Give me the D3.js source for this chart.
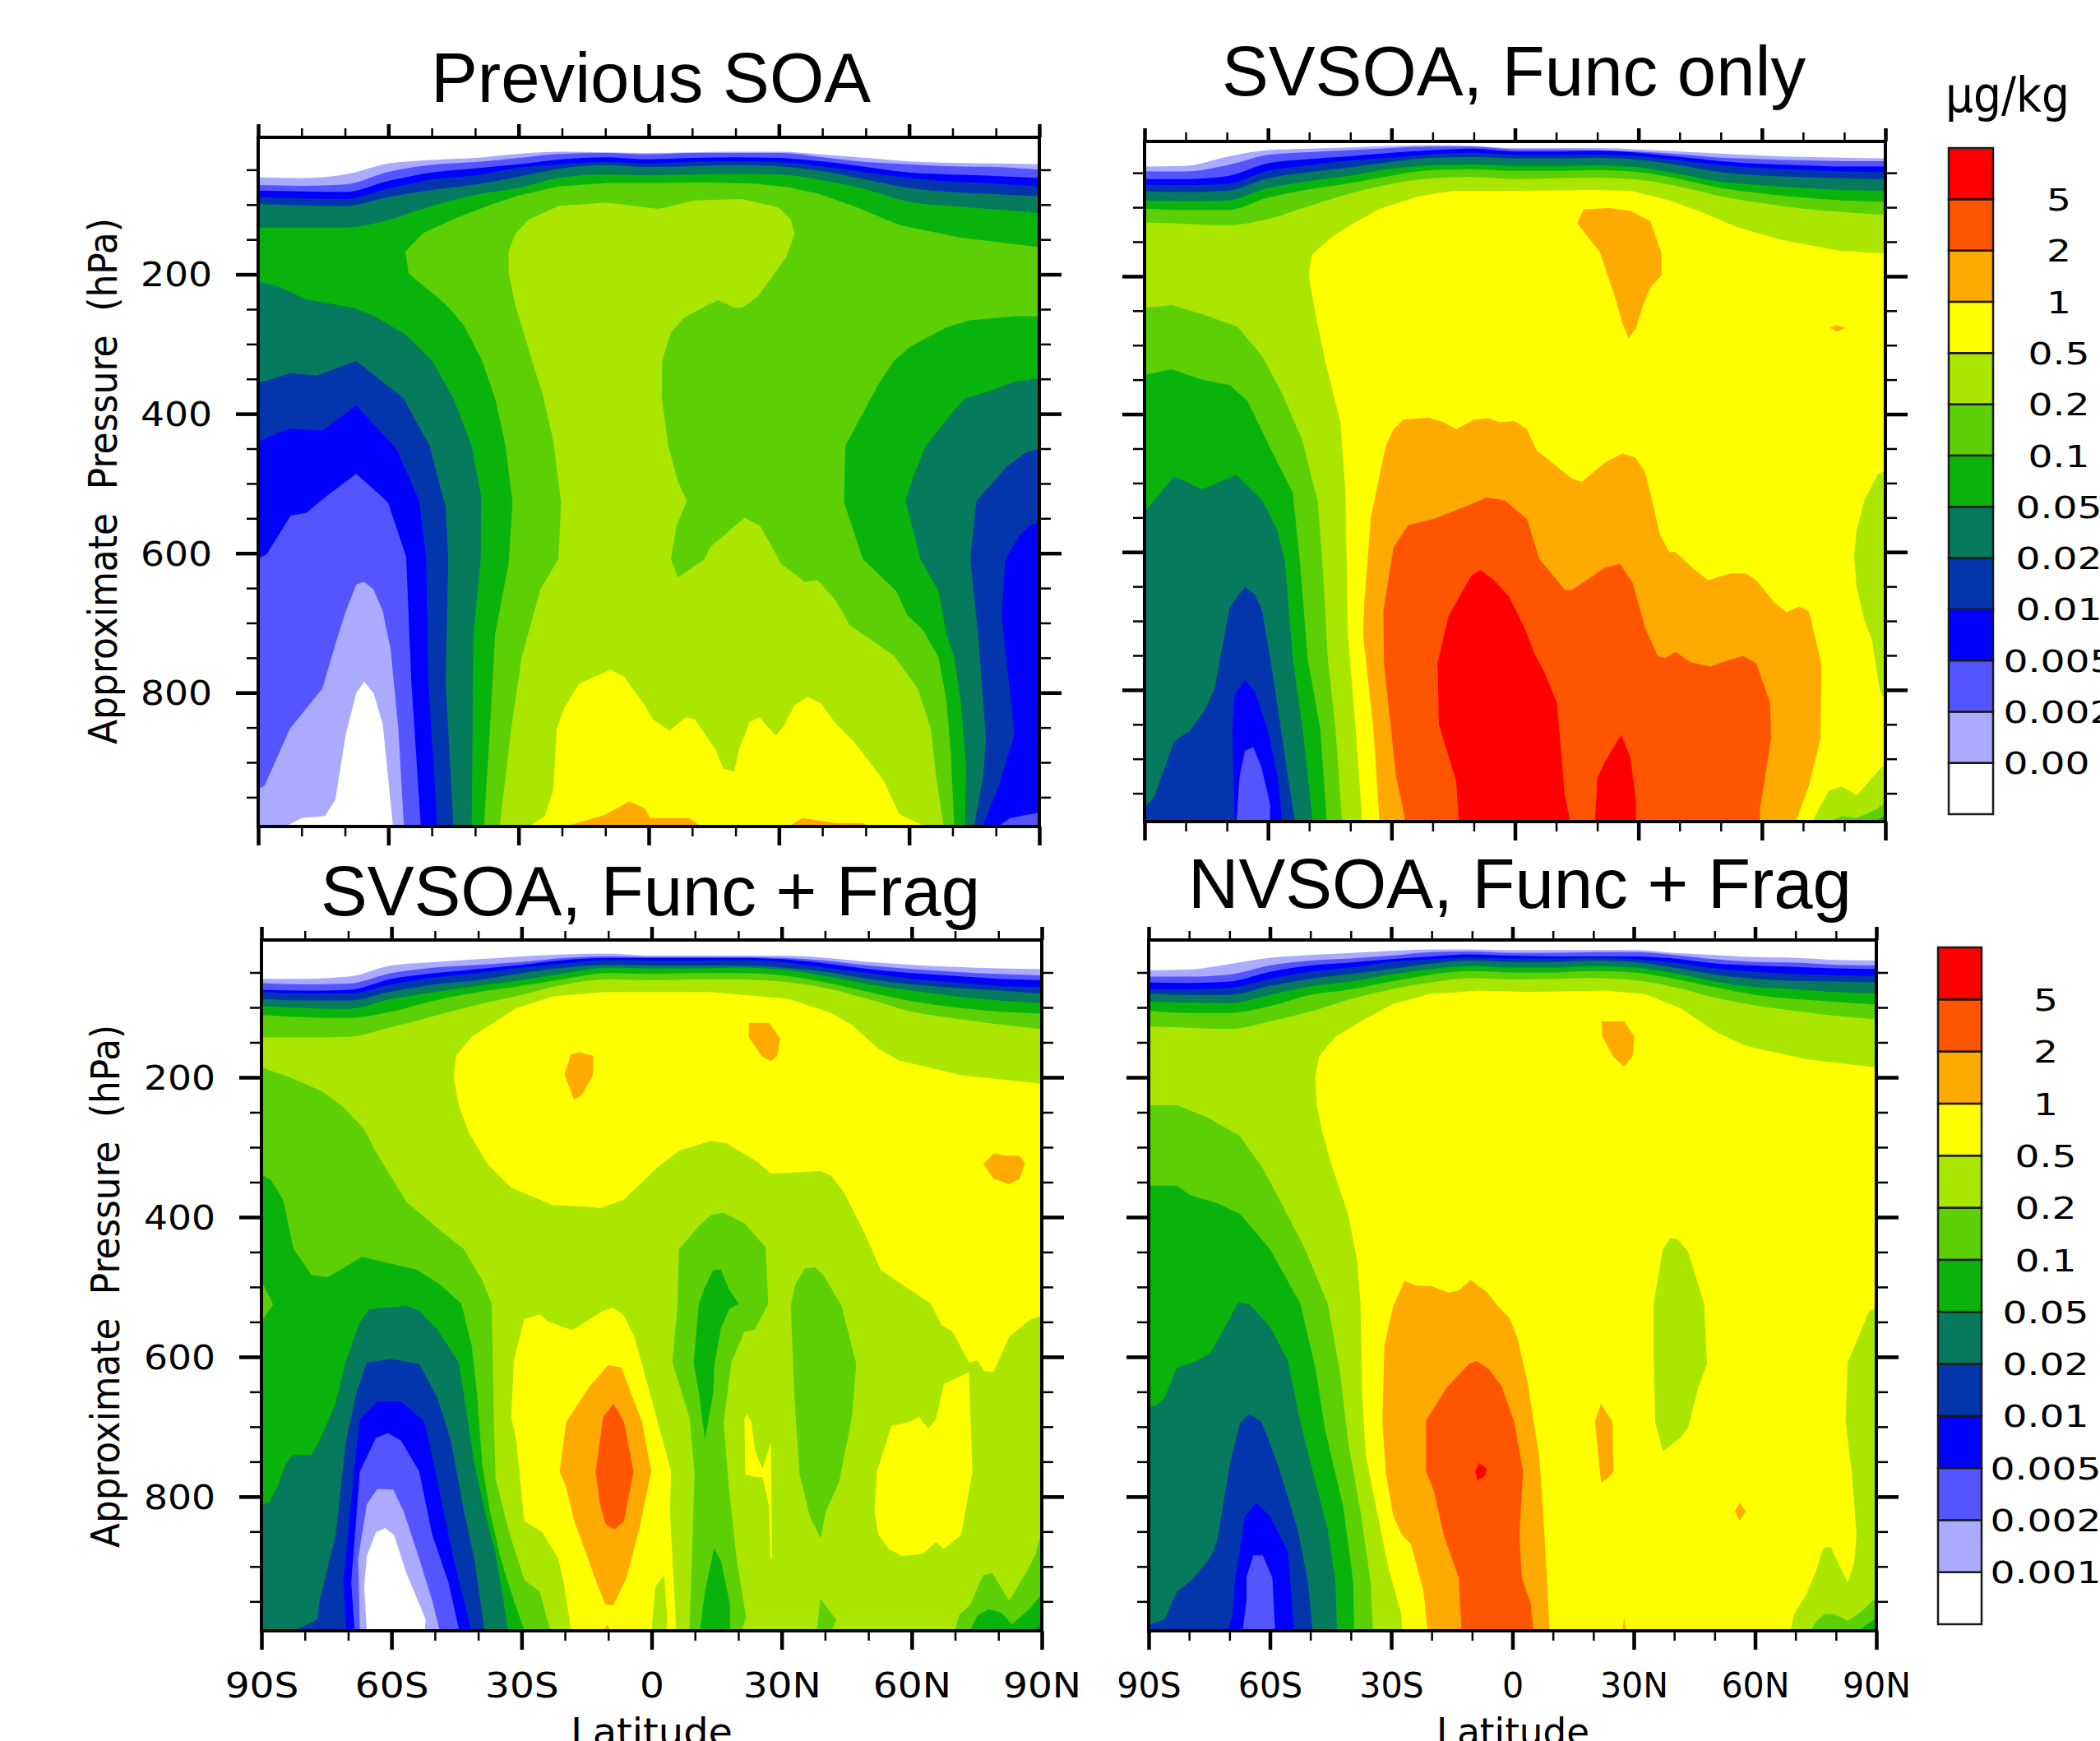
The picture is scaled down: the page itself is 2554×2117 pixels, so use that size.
<!DOCTYPE html>
<html><head><meta charset="utf-8">
<style>html,body{margin:0;padding:0;background:#fff}svg{display:block;overflow:hidden}</style>
<script src="https://cdn.jsdelivr.net/npm/d3@7"></script></head>
<body><svg id="c" width="2554" height="2117"></svg>
<script>
// Contour levels (µg/kg) and band colours
const levels=[0.001,0.002,0.005,0.01,0.02,0.05,0.1,0.2,0.5,1,2,5];
const levelLabels=["0.001","0.002","0.005","0.01","0.02","0.05","0.1","0.2","0.5","1","2","5"];
const bandColors=["#ffffff","#aaaaff","#5555ff","#0000ff","#0336ad","#057a5c","#0ab30c","#5ccf05","#aae600","#ffff00","#ffaa00","#ff5500","#ff0000"];
const latGrid=[-90,-80,-70,-60,-50,-40,-30,-20,-10,0,10,20,30,40,50,60,70,80,90];
const majorLat=[-90,-60,-30,0,30,60,90];
const minorLat=[-80,-70,-50,-40,-20,-10,10,20,40,50,70,80];
const latLabels=["90S","60S","30S","0","30N","60N","90N"];
const majorP=[200,400,600,800];
const minorP=[50,100,150,250,300,350,450,500,550,650,700,750,850,900,950];

// Each "top" row: [lower contour level, pressure (hPa) of that contour's upper edge on latGrid]
const prevTop=[
[0.001,[61,62,57,41,36,33,27,24,25,26,25,24,24,28,33,38,40,41,42]],
[0.002,[72,73,71,53,43,39,33,27,26,28,26,26,26,32,39,42,45,46,50]],
[0.005,[80,81,82,66,54,48,42,35,32,35,33,32,33,38,46,54,57,59,62]],
[0.01,[89,91,92,77,64,58,47,42,39,41,39,38,39,45,54,62,67,70,74]],
[0.02,[99,101,102,89,79,71,60,48,43,46,45,43,45,52,64,76,82,85,88]],
[0.05,[133,133,133,122,102,86,76,61,57,58,57,56,57,65,78,96,102,107,112]]];
// Each patch: [band lower level, [lat,hPa, lat,hPa, ...]] painted in order
const prevPatches=[
[0.1,[-56.2,168,-52,141,-44.4,119,-36.3,100,-30,87,-21,74,-9.6,69,0,69,13.6,68,25,70,32,75,39,84,48.4,105,57.7,129,71.6,147,90,161,90,260,84.3,260,74,266,68.6,276,60.2,304,56.5,324,52.9,358,45.3,446,45,527,46.3,551,49.3,608,57.1,655,59.6,689,63.2,710,66.8,750,68.6,811,69.6,886,70.4,991,-38,991,-36.6,852,-35.4,716,-32.3,615,-31.4,527,-33,446,-35.4,378,-38.4,324,-42.6,273,-46.8,243,-55.3,199,-56.1,168]],
[0.2,[-32.3,168,-30.8,142,-27.5,121,-20.8,102,-10,97,2.1,106,10.6,94,21.5,92,29.9,104,32.7,121,33.6,142,31.7,175,25.1,232,21.5,248,19.7,248,16,237,13,246,8.2,262,5.1,283,3.1,324,3,378,4.5,446,6.7,497,8.8,525,6.4,561,5.1,608,6.7,635,12.8,609,14.2,591,22.1,549,25.7,561,30.5,615,36,641,39,639,43.2,669,46.3,703,56.5,747,62,794,65,852,66.2,919,68,991,-34.4,991,-31.7,852,-29.3,750,-25,652,-20.8,608,-20.2,527,-22,439,-24.5,371,-26.9,324,-30.8,243,-32.3,199]],
[0.5,[-28,991,-23.9,977,-22,940,-21.2,852,-19.4,821,-16,787,-12.4,777,-8.8,767,-5.7,777,-0.9,818,0.9,838,4.8,855,8.5,835,10.6,838,15.4,882,17.2,909,19.7,913,20.9,879,23.3,842,25.5,835,29.3,862,31.1,848,33.6,818,36.6,806,39.6,815,43.2,845,47.5,872,54.1,926,57.7,974,64.4,991]],
[1,[-20.2,991,-10,975,-4.5,956,-0.9,966,0.3,980,9.4,980,12.4,991]],
[1,[31.7,991,35.4,980,43.2,987,49.3,987,51.7,991]],
[0.02,[-90,210,-85.5,217,-78.9,236,-68,248,-63.2,260,-55.9,287,-49.9,324,-45,378,-40.8,446,-38.6,520,-38.7,608,-40.4,716,-40.8,991,-90,991]],
[0.01,[-90,356,-82.5,342,-76.5,345,-67.4,324,-56.5,378,-50.5,446,-46.8,534,-46.2,608,-46.8,784,-45,991,-90,991]],
[0.005,[-90,440,-83,421,-75.2,424,-67.4,388,-58.3,449,-52.9,524,-51.3,608,-50.8,784,-48.7,991,-90,991]],
[0.002,[-90,608,-88,601,-82.5,546,-78.9,542,-74.6,520,-67.4,486,-60.1,527,-55.9,605,-54.7,784,-52.5,991,-90,991]],
[0.001,[-90,939,-88.5,933,-82.7,852,-75.2,794,-72.2,730,-69.8,683,-67.4,645,-65.6,641,-63.4,652,-61.3,683,-59.5,737,-57.7,852,-56.4,991,-90,991]],
[0,[-84.3,991,-80,980,-74.6,977,-72.2,953,-69.8,859,-67.4,801,-65.6,784,-63.4,801,-61.3,845,-60.1,919,-58.9,991]],
[0.02,[90,349,84.3,354,78.3,368,72.9,378,70.4,395,63.8,446,60.8,493,59.2,525,62.6,608,66.8,655,68.6,716,70.4,750,72,818,73.1,906,72.9,991,90,991]],
[0.01,[90,450,86.8,456,82.5,476,75.5,525,74.1,608,75.9,716,77.7,865,77.1,919,74.9,991,90,991]],
[0.005,[90,557,88,559,85.5,574,82.2,608,81.3,689,84.3,859,80.7,933,76.8,991,90,991]],
[0.002,[80.1,991,83.2,980,90,972,90,991]]];

const funcTop=[
[0.001,[41,40,27,17,15,13,11,10,11,14,14,14,16,19,22,25,27,28,29]],
[0.002,[48,48,39,24,20,17,14,12,12,16,16,17,19,23,28,30,32,33,33]],
[0.005,[59,59,55,36,30,26,21,17,15,19,19,18,21,27,33,37,39,41,41]],
[0.01,[67,68,66,47,39,32,28,23,21,24,24,24,26,32,39,43,46,48,49]],
[0.02,[77,78,76,58,49,42,34,28,27,29,29,28,31,39,49,54,56,58,59]],
[0.05,[90,91,90,72,62,54,44,39,38,40,40,39,42,52,63,68,72,75,76]],
[0.1,[102,104,104,86,74,65,54,46,45,47,47,46,49,59,72,80,86,90,92]],
[0.2,[122,124,126,117,98,80,66,58,56,59,58,57,60,70,84,94,102,107,111]]];
const funcPatches=[
[0.5,[-49.4,169,-44.5,143,-39.8,125,-32.8,102,-23.4,84,-15.2,76,0,76,20,75,28.2,76,37.6,90,45.8,108,54,129,64.6,147,78.6,163,90,167,90,990,-37.1,990,-38.7,857,-40.6,720,-41.2,514,-42.4,412,-46.1,323,-48.5,254,-50.1,199]],
[1,[15.1,123,16.7,103,23.1,101,28,105,32.9,120,35.6,168,35.6,199,32.9,216,31,244,29.4,275,27.6,290,26.1,268,24.3,230,20.6,165]],
[1,[76.5,275,78,271,80.3,275,78.3,280]],
[1,[-32.9,990,-34.4,857,-36.9,720,-36.6,672,-35,549,-31.4,446,-29.5,422,-27.1,408,-21,405,-17.3,412,-14.3,422,-10,408,-6.3,406,-3.9,412,-0.2,410,2.9,422,5.3,453,9.6,473,13.9,494,16.3,498,21.9,470,26.1,457,29.2,463,31.6,484,35.3,576,37.5,600,39,600,43.3,624,46.9,641,52.4,631,56.1,631,58.6,641,62.8,672,65.9,687,69,679,71.4,686,74.5,764,74.2,871,71.4,939,68.1,990]],
[2,[-26.5,990,-28.9,925,-31.8,764,-32,686,-29.5,593,-25.9,561,-19.8,552,-11.2,532,-6.9,521,-2.6,525,2.9,552,5.9,610,12.1,655,13.9,655,21.8,623,25.5,617,28.6,645,31.6,710,34.7,751,36.5,754,39,745,42.6,760,47.5,766,51.2,758,55.5,751,58.6,761,62,819,62.2,871,59.5,973,59.5,990]],
[5,[-13.6,990,-14.3,932,-18.5,850,-18.8,761,-16.1,692,-10.6,634,-8.4,626,-5.1,641,-1.4,665,2.3,710,4.7,747,7.2,775,10.2,819,12.1,953,13.5,990]],
[5,[19.4,990,20,929,21.5,908,25.8,865,28,898,29.4,960,29.4,990]],
[0.1,[-90,246,-83.4,242,-76,255,-67.5,273,-61.4,316,-56.5,371,-51.6,439,-47.9,528,-46.7,624,-45.5,754,-43.6,857,-42,990,-90,990]],
[0.05,[-90,343,-83.4,335,-76,350,-69.3,358,-65,381,-58.9,456,-54,514,-52.2,617,-50.4,754,-47.3,857,-45.7,990,-90,990]],
[0.02,[-90,542,-82.8,490,-76,509,-67.7,488,-61.4,525,-57.7,569,-55.9,614,-54,754,-51.6,857,-49.1,990,-90,990]],
[0.01,[-90,970,-87.7,956,-82.8,874,-79.1,860,-75.4,830,-73,799,-69.3,679,-65.6,651,-63.2,662,-61.4,686,-58.9,775,-55.2,925,-53.4,990,-90,990]],
[0.005,[-68.1,990,-68.7,857,-68.1,806,-65.6,786,-63.2,802,-60.1,857,-57.7,925,-56.5,990]],
[0.002,[-67.7,990,-66.9,925,-65.6,888,-63.6,883,-61.6,912,-59.5,966,-59.5,990]],
[0.2,[90,482,88.2,487,84.9,525,83,569,82.4,607,83,651,84.9,699,86.7,727,88.6,799,90,816]],
[0.2,[72,990,76.3,946,79.4,940,83,953,90,906,90,990]],
[0.1,[75.7,990,79.4,983,83,986,87.9,973,90,963,90,990]],
[0.05,[86.7,990,90,982,90,990]]];

const fragTop=[
[0.001,[59,59,56,40,35,31,27,24,23,26,26,26,26,29,35,39,42,44,45]],
[0.002,[65,67,66,51,43,39,35,29,27,28,28,28,29,33,40,45,49,52,54]],
[0.005,[75,76,75,59,51,45,39,32,29,29,29,29,31,37,45,51,55,59,61]],
[0.01,[78,80,80,67,57,51,43,37,32,33,33,32,35,43,51,59,64,69,71]],
[0.02,[88,90,90,77,67,61,51,43,39,40,40,40,43,49,59,67,72,76,80]],
[0.05,[98,101,102,88,78,69,61,51,43,44,44,43,46,55,67,76,84,90,94]],
[0.1,[111,114,115,106,90,78,69,59,51,52,51,51,54,64,78,91,100,106,109]],
[0.2,[143,143,142,128,112,96,82,67,60,61,60,60,63,72,88,106,116,124,131]]];
const fragPatches=[
[0.5,[-45.1,169,-45.7,199,-44.5,240,-42.1,280,-37.9,324,-32.4,358,-22.7,383,-14.9,385,-11.9,387,-6.4,375,1.5,328,6.3,305,13.6,291,17.2,294,24.4,321,27.5,338,39,334,41.4,341,44.4,365,48.6,416,52.9,476,64.4,524,66.8,554,69.4,564,73.2,608,75.2,605,76.7,620,78.9,622,82.5,571,87.3,547,90,541,90,209,71.6,197,57.1,176,52.3,159,46.2,125,41.4,108,31.7,88,13.6,78,-10.6,78,-22.7,84,-31.2,101,-41.5,142]],
[1,[-20.1,196,-18.6,167,-16.7,164,-13.5,169,-13.6,198,-16.1,225,-17.9,232]],
[1,[22.4,142,22.4,122,27.1,122,29.6,144,29,169,27.5,177,25.3,169]],
[1,[76.5,324,78.9,309,82.1,312,84.9,312,86.1,323,84.9,345,82.5,353,78.9,345]],
[0.5,[-29.4,546,-25.8,539,-24,549,-18.3,562,-11.2,534,-8.8,530,-6.4,541,-4,571,-2.2,611,4.5,764,4.2,821,5.1,922,5.7,991,-18.5,991,-20.3,922,-21.5,889,-25.2,851,-29.4,835,-31.2,720,-32.4,686,-31.8,605]],
[0.2,[0,991,0.85,929,2.9,912,3.6,977,3.3,991]],
[1,[-19.7,693,-14.3,642,-10,612,-7,615,-5.2,645,-2.2,693,-0.1,764,-2.8,845,-5.8,916,-8.8,955,-10.6,955,-12.5,926,-17.9,834,-19.7,787,-21.2,764]],
[1,[-11.2,991,-10.3,983,-9.2,991]],
[2,[-11.2,686,-8.8,667,-6.4,693,-4.2,764,-6.4,835,-8.6,847,-10.6,839,-11.9,811,-12.9,764]],
[0.5,[55.3,699,59.5,693,61.7,686,63.8,703,65.6,689,67.4,639,73.2,622,74,764,71.4,855,67.4,875,65.6,865,62.5,882,57.7,885,54.7,875,52.3,855,51.4,821,52,764]],
[0.5,[21.4,689,22,682,23,693,23.9,736,25.6,760,27.5,723,27.8,889,27.4,889,27.1,814,25.6,772,23.9,772,21.6,768]],
[0.1,[6.3,446,10.5,416,13.6,397,16.6,394,21.4,409,26.3,443,26.9,524,23.8,561,21.4,564,18.4,608,16.6,693,17.8,787,19.6,889,21.8,973,20.6,991,8.7,991,9.3,889,9.9,764,8.7,686,4.8,608,6,524]],
[0.05,[10.9,524,12.3,500,14.2,476,16,475,17.8,503,20.2,524,18,531,16,558,14.5,611,14.2,652,12.3,718,10.9,652,9.7,608]],
[0.05,[11.1,991,12.3,936,14.4,874,16,892,18.1,956,18.1,991]],
[0.1,[33.1,497,35.3,474,37.7,472,39.6,483,43.8,527,47.2,610,46.2,686,43.2,780,40.2,821,39,860,36.5,828,34.1,767,32.9,652,32.1,527]],
[0.1,[38.1,991,38.9,946,42.6,976,41.4,991]],
[0.1,[69.8,991,71,969,73.4,956,76.5,912,78.6,910,82.5,949,86.1,912,88.6,882,90,848,90,991]],
[0.05,[73.2,991,75.2,970,77.7,961,80.7,966,83.1,983,87.3,960,90,939,90,991]],
[0.02,[87.3,991,90,983,90,991]],
[0.1,[-90,186,-83.8,199,-76,220,-71.1,243,-66.3,274,-63.9,304,-56.6,378,-49.4,416,-43.3,446,-39.1,490,-36.9,524,-36.4,686,-36,774,-33,848,-29.4,919,-25.8,936,-23.3,991,-90,991]],
[0.05,[-90,339,-87.8,347,-85,375,-82.6,446,-78.4,483,-74.8,486,-71.1,473,-66.9,457,-62.7,463,-54.2,475,-48.7,497,-43.9,524,-41.5,584,-40.3,652,-39.1,753,-37.3,821,-34.8,889,-31.8,949,-29.2,991,-90,991]],
[0.1,[-90,491,-89.3,500,-87.3,525,-90,549]],
[0.02,[-90,814,-88.1,807,-85.9,780,-84.4,753,-82.6,740,-78.6,741,-76.6,720,-72.9,666,-70.5,605,-67.3,551,-65.1,532,-56.6,527,-53.6,534,-49.4,561,-44.5,608,-42.7,679,-40.9,753,-38.5,821,-36,882,-33,991,-90,991]],
[0.01,[-83.2,991,-77.2,976,-76.6,949,-72.9,855,-70.5,720,-68.1,652,-65.7,608,-60.2,603,-53.6,610,-49.4,659,-46.3,720,-43.3,821,-40.9,889,-38.5,991]],
[0.005,[-70.5,991,-71.1,922,-68.5,753,-67.3,689,-63.3,664,-57.8,664,-52.4,693,-50,760,-45.7,889,-41.5,991]],
[0.002,[-68.5,991,-69.3,922,-67.3,764,-63.6,716,-60.8,709,-57.8,720,-53.6,764,-50.6,855,-46.9,922,-44.3,991]],
[0.001,[-67.3,991,-67.7,889,-65.7,811,-63.3,789,-59.6,790,-57.2,821,-53.6,889,-50.6,949,-48.8,991]],
[0,[-65.7,991,-66.3,929,-65.7,885,-63.6,851,-61.5,845,-59.4,855,-56.6,909,-52.1,976,-52.4,991]]];

const nvTop=[
[0.001,[47,46,38,29,25,22,19,17,17,18,18,18,18,22,25,28,29,32,33]],
[0.002,[56,56,53,40,33,30,26,21,20,22,22,21,21,25,31,35,36,39,40]],
[0.005,[64,65,63,49,40,36,31,27,24,26,27,27,27,30,37,40,42,44,45]],
[0.01,[74,74,72,59,49,43,35,31,29,30,30,29,31,36,44,49,52,54,55]],
[0.02,[80,82,82,69,59,52,45,37,33,35,35,33,35,43,53,59,62,63,64]],
[0.05,[92,93,94,82,70,63,53,45,41,43,43,41,43,51,63,71,74,78,80]],
[0.1,[105,108,108,98,82,74,63,53,48,50,50,48,50,59,71,82,88,92,96]],
[0.2,[127,129,131,120,106,88,74,64,58,60,59,58,61,71,86,97,105,112,117]]];
const nvPatches=[
[0.5,[-47.8,169,-43.8,142,-36.9,118,-29.5,95,-20.7,81,-8.3,76,4.2,78,22.9,76,32.8,81,41.5,101,50.3,135,57.7,155,72.7,174,90,186,90,991,-27.2,991,-27.6,966,-30.7,902,-33.8,814,-36.3,740,-37.2,652,-37.6,524,-38.4,463,-40.7,395,-45,321,-47.1,277,-48.4,240,-48.8,199]],
[1,[-21,991,-22,936,-25.1,868,-27.3,855,-29.5,828,-31.3,767,-32.2,693,-31.7,584,-29.5,527,-26.7,491,-23.9,498,-20.1,499,-15.8,508,-13.3,505,-10.4,490,-6.4,507,-3.7,527,-0.8,544,1.1,571,3.6,632,6.7,747,7.9,855,9.2,991]],
[2,[-12.6,991,-13.3,916,-17,855,-19.5,791,-21.4,764,-21.4,691,-16.4,645,-10.8,610,-8.9,606,-5.8,618,-2.7,642,0.4,693,2.6,764,1.7,855,2.3,916,4.5,953,5.2,991]],
[5,[-9.2,764,-8.3,752,-6.4,760,-6.8,770,-8.7,777]],
[1,[21.9,780,20.4,693,21.9,667,24.7,693,25,764,23.5,774]],
[1,[22,120,27.6,120,30.1,142,29.7,169,27.6,184,25.1,172,22.2,142]],
[1,[55,821,56.2,809,57.7,821,56.1,834]],
[1,[27.2,991,27.6,973,28.1,991]],
[0.2,[34.9,524,37.2,446,39,430,40.9,432,43.4,449,47.4,524,48.1,610,45.9,645,43.4,702,41.5,716,37.2,735,35.3,693,34.9,598]],
[0.2,[90,530,88.3,533,85.1,578,82.9,608,82.4,693,83.9,764,85.1,855,84.5,895,82.9,923,81.2,903,78.7,872,76.8,874,75.2,905,72.7,939,69.6,969,68.7,991,90,991]],
[0.1,[73.7,991,74.9,980,77.1,968,79.5,968,82.9,978,86.4,964,90,944,90,991]],
[0.05,[85.1,991,87.6,983,90,974,90,991]],
[0.1,[-90,240,-83,240,-75.5,257,-67.5,284,-62,328,-57,382,-51.3,446,-45.7,524,-42.6,625,-40.7,720,-37.6,821,-35.1,922,-34.5,991,-90,991]],
[0.05,[-90,355,-83,355,-79.9,368,-73.1,380,-67.5,395,-60,446,-52.5,524,-48.8,615,-46.3,706,-41.9,814,-39.4,922,-39.2,991,-90,991]],
[0.02,[-90,672,-88,669,-86.1,659,-83,615,-79.3,609,-74.9,595,-72.4,571,-67.8,522,-65,525,-60,557,-55.6,605,-52.5,693,-49.4,764,-45.7,848,-43.8,922,-43.4,991,-90,991]],
[0.01,[-90,983,-86.1,976,-83,936,-79.3,919,-74.9,889,-73.1,865,-69.9,753,-67.5,696,-65.2,682,-62.1,693,-58.1,753,-53.1,848,-50.6,922,-49.4,991,-90,991]],
[0.005,[-70.8,991,-69.3,973,-68.7,922,-66.2,828,-63.3,809,-60,828,-55.6,878,-54,991]],
[0.002,[-66.8,991,-65.8,949,-65.8,915,-64.1,884,-61.8,884,-59.4,916,-58.7,991]]];

const svg=d3.select("#c");
const bandColor=d3.scaleThreshold().domain(levels).range(bandColors);
const SANS="'DejaVu Sans',sans-serif", ARIAL="'Liberation Sans',Arial,sans-serif";
function fit(sel,k){sel.each(function(){const l=this.getComputedTextLength();d3.select(this).attr("textLength",l*k).attr("lengthAdjust","spacingAndGlyphs");});}
function styleAxis(g,w){g.select(".domain").remove();g.selectAll("line").attr("stroke","#000").attr("stroke-width",w);}

const panels=[
{id:"a",title:"Previous SOA",tx:[524,1059],ty:124,box:[314,1264,167,1005],p:[3.5,992],top:prevTop,patches:prevPatches,yl:true,xl:false},
{id:"b",title:"SVSOA, Func only",tx:[1486,2196],ty:116,box:[1392,2293,172,999],p:[4.5,991],top:funcTop,patches:funcPatches,yl:false,xl:false},
{id:"c",title:"SVSOA, Func + Frag",tx:[390,1192],ty:1113,box:[318,1267,1143,1983],p:[3.5,992],top:fragTop,patches:fragPatches,yl:true,xl:true},
{id:"d",title:"NVSOA, Func + Frag",tx:[1445,2252],ty:1104,box:[1397,2282,1143,1983],p:[3.5,992],top:nvTop,patches:nvPatches,yl:false,xl:true}];

panels.forEach(P=>{
  const [x0,x1,y0,y1]=P.box;
  const x=d3.scaleLinear().domain([-90,90]).range([x0,x1]);
  const y=d3.scaleLinear().domain(P.p).range([y0,y1]);
  // contours that end on the ground run to the lower axis
  const ground=v=>v>=990?P.p[1]+2:v;
  const line=d3.line().x(d=>x(d[0])).y(d=>y(ground(d[1])));
  const topLine=d3.line().x(d=>x(d[0])).y(d=>y(d[1])).curve(d3.curveMonotoneX);
  const pairs=a=>d3.range(0,a.length,2).map(i=>[a[i],a[i+1]]);
  svg.append("clipPath").attr("id","clip-"+P.id).append("rect").attr("x",x0).attr("y",y0).attr("width",x1-x0).attr("height",y1-y0);
  const g=svg.append("g").attr("clip-path","url(#clip-"+P.id+")");
  g.selectAll("path.top").data(P.top).join("path").attr("class","top")
    .attr("fill",d=>bandColor(d[0]))
    .attr("d",d=>topLine(latGrid.map((l,i)=>[l,d[1][i]]))+`L${x(90)},${y1+4}L${x(-90)},${y1+4}Z`);
  g.selectAll("path.patch").data(P.patches).join("path").attr("class","patch")
    .attr("fill",d=>bandColor(d[0]))
    .attr("d",d=>line(pairs(d[1]))+"Z");
  // axes
  const ax=(gen,t,w)=>{const a=svg.append("g").attr("transform",t).call(gen);styleAxis(a,w);return a;};
  const none=()=>"";
  ax(d3.axisTop(x).tickValues(minorLat).tickSize(11).tickFormat(none),`translate(0,${y0})`,2.5);
  ax(d3.axisTop(x).tickValues(majorLat).tickSize(16).tickFormat(none),`translate(0,${y0})`,4.5);
  ax(d3.axisBottom(x).tickValues(minorLat).tickSize(12).tickFormat(none),`translate(0,${y1})`,2.5);
  const bot=ax(d3.axisBottom(x).tickValues(majorLat).tickSize(23).tickFormat((d,i)=>P.xl?latLabels[i]:""),`translate(0,${y1})`,4.5);
  ax(d3.axisLeft(y).tickValues(minorP).tickSize(14).tickFormat(none),`translate(${x0},0)`,2.5);
  const lef=ax(d3.axisLeft(y).tickValues(majorP).tickSize(27).tickPadding(29).tickFormat(d=>P.yl?d:""),`translate(${x0},0)`,4.5);
  ax(d3.axisRight(y).tickValues(minorP).tickSize(14).tickFormat(none),`translate(${x1},0)`,2.5);
  ax(d3.axisRight(y).tickValues(majorP).tickSize(27).tickFormat(none),`translate(${x1},0)`,4.5);
  lef.selectAll("text").attr("font-family",SANS).attr("font-size",40).attr("fill","#000").attr("dy","0.36em").call(fit,1.14);
  bot.selectAll("text").attr("font-family",SANS).attr("font-size",42).attr("fill","#000").attr("y",2064-y1).attr("dy",0)
     .call(fit,P.id==="c"?1.12:0.98);
  svg.append("rect").attr("x",x0).attr("y",y0).attr("width",x1-x0).attr("height",y1-y0)
     .attr("fill","none").attr("stroke","#000").attr("stroke-width",4);
  // title
  svg.append("text").attr("x",P.tx[0]).attr("y",P.ty).attr("font-family",ARIAL).attr("font-size",85).attr("fill","#000")
     .attr("textLength",P.tx[1]-P.tx[0]).attr("lengthAdjust","spacingAndGlyphs").text(P.title);
  if(P.yl){
    const bx=P.id==="a"?142:145;
    svg.append("text").attr("transform",`translate(${bx},${P.id==="a"?585:1564}) rotate(-90)`).attr("text-anchor","middle")
       .attr("font-family",SANS).attr("font-size",48).attr("word-spacing",16).attr("fill","#000")
       .attr("textLength",P.id==="a"?640:636).attr("lengthAdjust","spacingAndGlyphs").text("Approximate Pressure (hPa)");
  }
  if(P.xl){
    const w=P.id==="c"?[694,891]:[1747,1933];
    svg.append("text").attr("x",w[0]).attr("y",2122).attr("font-family",SANS).attr("font-size",46).attr("fill","#000")
       .attr("textLength",w[1]-w[0]).attr("lengthAdjust","spacingAndGlyphs").text("Latitude");
  }
});

// colour bars
svg.append("clipPath").attr("id","clip-edge").append("rect").attr("x",2400).attr("y",0).attr("width",146).attr("height",2117);
[{x:[2370,2424],y:[180,990],cx:2504,cut:true},{x:[2357,2410],y:[1152,1975],cx:2488,cut:false}].forEach(B=>{
  const n=bandColors.length;
  const sy=d3.scaleLinear().domain([0,n]).range([B.y[1],B.y[0]]);
  svg.append("g").selectAll("rect").data(bandColors).join("rect")
    .attr("x",B.x[0]).attr("width",B.x[1]-B.x[0])
    .attr("y",(d,i)=>sy(i+1)).attr("height",(d,i)=>sy(i)-sy(i+1))
    .attr("fill",d=>d).attr("stroke","#1a1a1a").attr("stroke-width",2.5);
  svg.append("g").selectAll("text").data(levelLabels).join("text")
    .attr("x",B.cx).attr("y",(d,i)=>sy(i+1)).attr("dy","0.36em").attr("text-anchor","middle")
    .attr("font-family",SANS).attr("font-size",38).attr("fill","#000")
    .attr("clip-path",(d,i)=>B.cut&&i===0?"url(#clip-edge)":null)
    .text(d=>d).call(fit,1.24);
});
svg.append("text").attr("x",2366).attr("y",136).attr("font-family",SANS).attr("font-size",58).attr("fill","#000")
   .attr("textLength",151).attr("lengthAdjust","spacingAndGlyphs").text("μg/kg");
</script></body></html>
